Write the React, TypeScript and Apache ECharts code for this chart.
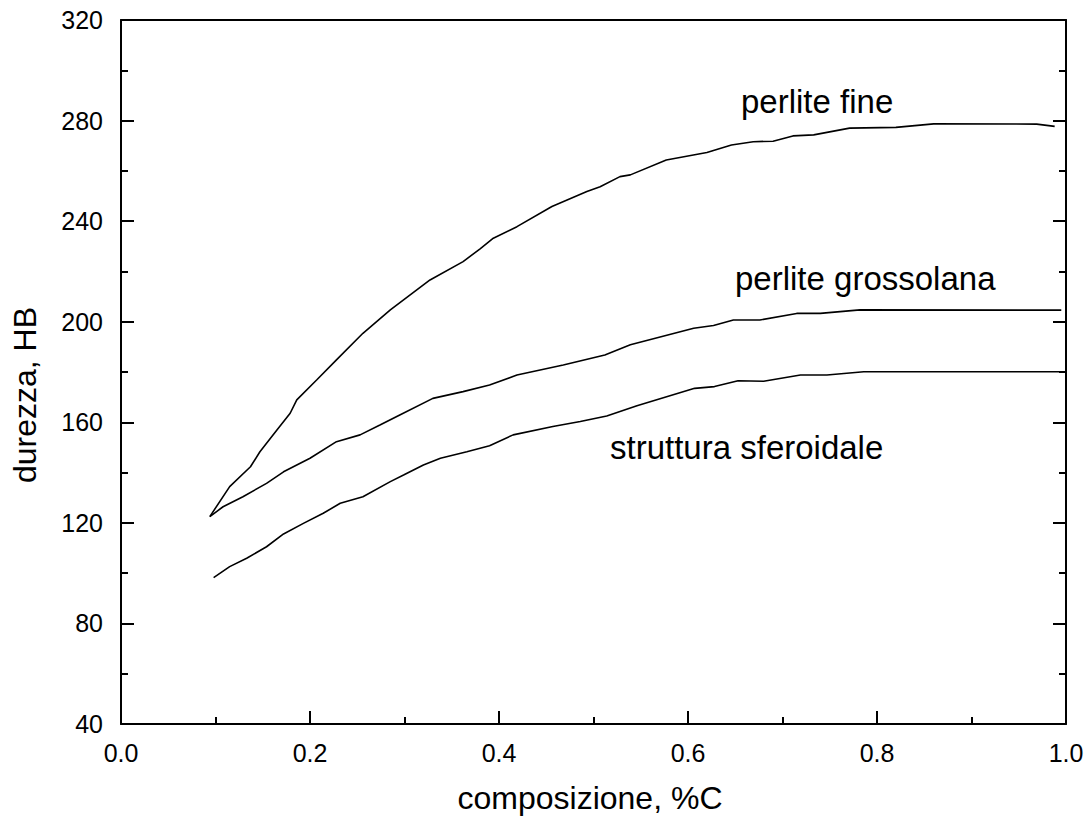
import React, { useEffect, useRef } from "react";
import * as echarts from "echarts";

// Hardness (HB) vs carbon content (%C) for three steel microstructures
const perliteFine: [number, number][] = [
  [0.094, 122.5], [0.115, 134.4], [0.137, 142.3], [0.147, 148.3], [0.165, 156.9],
  [0.179, 163.6], [0.186, 168.9], [0.207, 176.8], [0.228, 184.8], [0.256, 195.4],
  [0.285, 204.7], [0.327, 216.6], [0.362, 223.9], [0.38, 229.0], [0.394, 233.2],
  [0.419, 237.8], [0.456, 245.8], [0.493, 251.8], [0.507, 253.7], [0.528, 257.7],
  [0.539, 258.4], [0.577, 264.3], [0.62, 267.3], [0.646, 270.3], [0.669, 271.6],
  [0.69, 271.8], [0.711, 273.9], [0.733, 274.3], [0.771, 277.0], [0.82, 277.3],
  [0.86, 278.7], [0.969, 278.6], [0.988, 277.7],
];

const perliteGrossolana: [number, number][] = [
  [0.094, 122.5], [0.108, 126.4], [0.129, 130.4], [0.154, 135.7], [0.172, 140.3],
  [0.2, 145.7], [0.228, 152.3], [0.253, 155.0], [0.274, 158.9], [0.295, 162.9],
  [0.33, 169.5], [0.362, 172.2], [0.39, 174.8], [0.419, 178.8], [0.468, 182.8],
  [0.512, 186.8], [0.539, 190.8], [0.606, 197.4], [0.627, 198.5], [0.648, 200.7],
  [0.676, 200.7], [0.715, 203.3], [0.74, 203.3], [0.782, 204.7], [0.995, 204.6],
];

const strutturaSferoidale: [number, number][] = [
  [0.098, 98.2], [0.115, 102.6], [0.133, 105.9], [0.154, 110.5], [0.172, 115.6],
  [0.193, 119.8], [0.214, 123.8], [0.232, 127.8], [0.256, 130.4], [0.285, 136.4],
  [0.299, 139.0], [0.32, 143.0], [0.338, 145.7], [0.366, 148.3], [0.39, 150.7],
  [0.415, 155.0], [0.457, 158.3], [0.486, 160.3], [0.514, 162.5], [0.546, 166.6],
  [0.607, 173.5], [0.628, 174.2], [0.653, 176.5], [0.68, 176.3], [0.719, 178.8],
  [0.747, 178.8], [0.786, 180.1], [0.995, 180.1],
];

const xRange = { min: 0, max: 1, interval: 0.2 };
const yRange = { min: 40, max: 320, interval: 40 };

const FONT = "'Liberation Sans', Arial, Helvetica, sans-serif";
const INK = "#000";

export default function App() {
  const ref = useRef<HTMLDivElement>(null);

  useEffect(() => {
    if (!ref.current) return;
    const chart = echarts.init(ref.current, null, { renderer: "svg" });

    const line = { lineStyle: { color: INK, width: 2 }, onZero: false };
    const tick = { inside: true, length: 13, lineStyle: { color: INK, width: 2 } };
    const minor = { show: true, splitNumber: 2, length: 7, lineStyle: { color: INK, width: 2 } };
    const tickLabel = { color: INK, fontSize: 25, fontFamily: FONT };

    const curve = (name: string, data: [number, number][]) => ({
      type: "line",
      name,
      data,
      xAxisIndex: 0,
      yAxisIndex: 0,
      symbol: "none",
      smooth: false,
      lineStyle: { color: INK, width: 1.6 },
      z: 3,
    });

    const text = (content: string, x: number, y: number, size: number, align = "left", rotation = 0) => ({
      type: "text",
      x,
      y,
      rotation,
      style: {
        text: content,
        fill: INK,
        font: `${size}px ${FONT}`,
        textAlign: align,
        textVerticalAlign: "middle",
      },
    });

    chart.setOption({
      animation: false,
      backgroundColor: "#fff",
      grid: { left: 121, right: 26, top: 20, bottom: 101 },
      xAxis: [
        {
          type: "value",
          ...xRange,
          position: "bottom",
          axisLine: line,
          axisTick: tick,
          minorTick: minor,
          splitLine: { show: false },
          axisLabel: { ...tickLabel, margin: 16, formatter: (v: number) => v.toFixed(1) },
        },
        {
          type: "value",
          ...xRange,
          position: "top",
          axisLine: line,
          axisTick: { show: false },
          axisLabel: { show: false },
          splitLine: { show: false },
        },
      ],
      yAxis: [
        {
          type: "value",
          ...yRange,
          position: "left",
          axisLine: line,
          axisTick: tick,
          minorTick: minor,
          splitLine: { show: false },
          axisLabel: { ...tickLabel, margin: 18 },
        },
        {
          type: "value",
          ...yRange,
          position: "right",
          axisLine: line,
          axisTick: tick,
          minorTick: minor,
          splitLine: { show: false },
          axisLabel: { show: false },
        },
      ],
      series: [
        curve("perlite fine", perliteFine),
        curve("perlite grossolana", perliteGrossolana),
        curve("struttura sferoidale", strutturaSferoidale),
      ],
      graphic: [
        text("perlite fine", 741, 101, 33),
        text("perlite grossolana", 735, 278, 33),
        text("struttura sferoidale", 610, 447, 33),
        text("composizione, %C", 590, 798, 32, "center"),
        text("durezza, HB", 25, 395, 32, "center", Math.PI / 2),
      ],
    });

    return () => chart.dispose();
  }, []);

  return (
    <div
      ref={ref}
      style={{ position: "fixed", left: 0, top: 0, width: 1092, height: 825, background: "#fff" }}
    />
  );
}
